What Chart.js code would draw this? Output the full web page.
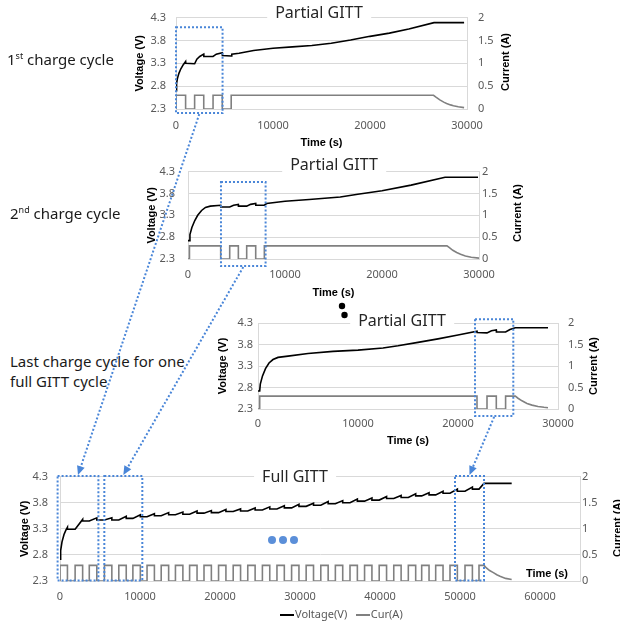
<!DOCTYPE html>
<html>
<head>
<meta charset="utf-8">
<title>GITT charge cycles</title>
<script src="https://cdn.jsdelivr.net/npm/chart.js@4.4.1/dist/chart.umd.min.js"></script>
<style>
  body { margin: 0; background: #fff; }
  #page { position: relative; width: 620px; height: 622px; overflow: hidden; font-family: 'Noto Sans', sans-serif; }
  canvas.chart { position: absolute; }
  #overlay { position: absolute; left: 0; top: 0; z-index: 5; pointer-events: none; }
  .side { position: absolute; font-size: 15px; color: #1a1a1a; white-space: nowrap; line-height: 1; transform: translateY(-50%); }
  .side sup { font-size: 9px; vertical-align: 6px; }
  .ctitle { position: absolute; font-size: 16px; color: #262626; background: #fff; padding: 0 8px; line-height: 1.2;
            white-space: nowrap; transform: translate(-50%, -50%); z-index: 3; }
  .rtitle { position: absolute; font: bold 11px 'Liberation Sans', Arial, sans-serif; color: #000; white-space: nowrap;
            transform: translate(-50%, -50%) rotate(-90deg); z-index: 3; }
  .intitle { position: absolute; font: bold 11px 'Liberation Sans', Arial, sans-serif; color: #000; white-space: nowrap;
             transform: translate(-50%, -50%); z-index: 3; }
  #legend { position: absolute; left: 280px; top: 606px; font-size: 11px; color: #595959; white-space: nowrap; line-height: 16px; }
  #legend .sw { display: inline-block; width: 14px; height: 2px; vertical-align: middle; margin-right: 1px; }
</style>
</head>
<body>
<div id="page">
  <canvas id="c1" class="chart"></canvas>
  <canvas id="c2" class="chart"></canvas>
  <canvas id="c3" class="chart"></canvas>
  <canvas id="c4" class="chart"></canvas>

  <div class="side" style="left:7px; top:59px;">1<sup>st</sup> charge cycle</div>
  <div class="side" style="left:10px; top:213px;">2<sup>nd</sup> charge cycle</div>
  <div class="side" style="left:10px; top:361px;">Last charge cycle for one</div>
  <div class="side" style="left:10px; top:381px;">full GITT cycle</div>

  <div class="ctitle" style="left:319px; top:13px;">Partial GITT</div>
  <div class="ctitle" style="left:334px; top:165px;">Partial GITT</div>
  <div class="ctitle" style="left:402px; top:321px;">Partial GITT</div>
  <div class="ctitle" style="left:295px; top:477px;">Full GITT</div>

  <div class="rtitle" style="left:505px; top:62px;">Current (A)</div>
  <div class="rtitle" style="left:517px; top:213px;">Current (A)</div>
  <div class="rtitle" style="left:593px; top:366px;">Current (A)</div>
  <div class="rtitle" style="left:617px; top:528px;">Current (A)</div>
  <div class="intitle" style="left:547px; top:573px;">Time (s)</div>

  <div id="legend"><span class="sw" style="background:#000"></span>Voltage(V)&nbsp;&nbsp;&nbsp;<span class="sw" style="background:#808080"></span>Cur(A)</div>

  <canvas id="overlay" width="620" height="622"></canvas>
</div>

<script>
// ---------- axis ticks ----------
const voltTicks = [2.3, 2.8, 3.3, 3.8, 4.3];
const curTicks = [0, 0.5, 1, 1.5, 2];
const timeTicks30 = [0, 10000, 20000, 30000];
const timeTicks60 = [0, 10000, 20000, 30000, 40000, 50000, 60000];

// ---------- 1st charge cycle: [time s, value] ----------
const c1Volt = [[0,2.70],[60,2.86],[150,2.97],[300,3.08],[500,3.18],[750,3.27],[990,3.34],[1000,3.30],[1920,3.29],
  [2150,3.39],[2450,3.45],[2860,3.50],[2870,3.45],[3820,3.45],[4150,3.50],[4770,3.53],[4780,3.47],[5690,3.46],
  [5750,3.50],[6500,3.52],[8000,3.58],[10000,3.63],[12000,3.66],[14000,3.69],[16000,3.74],[18000,3.81],
  [20000,3.89],[22000,3.96],[24000,4.05],[26600,4.19],[29700,4.19]];
const c1Cur = [[0,0],[0,0.3],[990,0.3],[990,0],[1920,0],[1920,0.3],[2860,0.3],[2860,0],[3820,0],[3820,0.3],
  [4770,0.3],[4770,0],[5690,0],[5690,0.3],[26550,0.3],[26800,0.26],[27200,0.2],[27600,0.15],[27900,0.12],
  [28300,0.09],[28600,0.07],[29100,0.05],[29700,0.03]];

// ---------- 2nd charge cycle ----------
const c2Volt = [[0,2.72],[150,2.72],[200,2.86],[400,3.02],[700,3.18],[1000,3.30],[1400,3.41],[1800,3.48],[2300,3.51],
  [3370,3.53],[3380,3.49],[4300,3.49],[4700,3.53],[5190,3.55],[5200,3.51],[6050,3.51],[6450,3.55],[6980,3.57],
  [6990,3.53],[7870,3.53],[8100,3.57],[10000,3.62],[12500,3.66],[15700,3.72],[17500,3.78],[20000,3.86],
  [23000,3.99],[26500,4.17],[29900,4.17]];
const c2Cur = [[0,0],[150,0],[150,0.3],[3370,0.3],[3370,0],[4300,0],[4300,0.3],[5190,0.3],[5190,0],[6050,0],
  [6050,0.3],[6980,0.3],[6980,0],[7870,0],[7870,0.3],[26700,0.3],[26950,0.26],[27300,0.2],[27700,0.15],
  [28100,0.11],[28600,0.07],[29200,0.04],[30000,0.02]];

// ---------- last charge cycle ----------
const c3Volt = [[0,2.72],[170,2.72],[230,2.88],[450,3.07],[750,3.24],[1100,3.37],[1500,3.45],[2000,3.50],[3000,3.53],
  [5000,3.59],[7500,3.64],[10000,3.67],[12500,3.72],[14000,3.77],[16000,3.85],[18000,3.93],[20000,4.02],
  [21900,4.11],[21910,4.08],[22900,4.07],[23350,4.12],[23830,4.14],[23840,4.09],[24760,4.09],[25200,4.15],
  [25730,4.19],[29000,4.19]];
const c3Cur = [[0,0],[170,0],[170,0.3],[21900,0.3],[21900,0],[22900,0],[22900,0.3],[23830,0.3],[23830,0],
  [24760,0],[24760,0.3],[25730,0.3],[26000,0.25],[26400,0.19],[26900,0.13],[27400,0.09],[28000,0.06],
  [28600,0.04],[29000,0.03]];

// ---------- full GITT: pulse edges and voltage levels ----------
const pulseAmp4 = 0.3;
const pulseOn4 = [0, 1890, 3660, 5550, 7350, 9110, 10880, 12650, 14430, 16200, 18000, 19820, 21650, 23470, 25300,
  27120, 28950, 30770, 32600, 34420, 36250, 38070, 39900, 41720, 43540, 45210, 46960, 48750, 50625, 52375];
const pulseOff4 = [930, 2830, 4600, 6480, 8280, 10040, 11800, 13580, 15360, 17130, 18920, 20740, 22570, 24390, 26220,
  28040, 29870, 31690, 33520, 35340, 37170, 38990, 40820, 42640, 44460, 46130, 47880, 49670, 51550, 53000];
const peak4 = [3.33, 3.48, 3.51, 3.51, 3.54, 3.57, 3.59, 3.61, 3.62, 3.64, 3.65, 3.67, 3.68, 3.70, 3.72,
  3.74, 3.77, 3.79, 3.82, 3.84, 3.87, 3.89, 3.92, 3.94, 3.97, 3.99, 4.02, 4.06, 4.10, 4.17];
const rest4 = [3.29, 3.45, 3.47, 3.47, 3.50, 3.53, 3.55, 3.57, 3.58, 3.60, 3.61, 3.63, 3.64, 3.66, 3.68,
  3.70, 3.73, 3.75, 3.78, 3.80, 3.83, 3.85, 3.88, 3.90, 3.93, 3.95, 3.98, 4.02, 4.06, 4.17];
const v4Head = [[0,2.72],[80,2.88],[250,3.05],[500,3.19],[750,3.28]];
const v4End = 56460;
const cur4Tail = [[53300,0.25],[53700,0.2],[54170,0.16],[54600,0.12],[55000,0.09],[55700,0.05],[56460,0.03]];

// zoom boxes: [t start, t end, V low, V high]
const zoomBox1 = [0, 4800, 2.21, 4.09];
const zoomBox2 = [3400, 8000, 2.14, 4.06];
const zoomBox3 = [21700, 25530, 2.14, 4.39];
const fullBoxes = [[-300, 4800, 2.31, 4.31], [5540, 10290, 2.31, 4.31], [49375, 53000, 2.31, 4.31]];

// build step shapes of the full GITT from the pulse edges
function fullVolt() {
  const pts = v4Head.slice();
  for (let k = 0; k < pulseOn4.length; k++) {
    if (k > 0) pts.push([pulseOn4[k], rest4[k - 1]]);
    pts.push([pulseOff4[k], peak4[k]], [pulseOff4[k], rest4[k]]);
  }
  pts.push([v4End, rest4[rest4.length - 1]]);
  return pts;
}
function fullCur() {
  const pts = [];
  const last = pulseOn4.length - 1;
  pulseOn4.forEach((t, k) => {
    pts.push([t, 0], [t, pulseAmp4]);
    pts.push([pulseOff4[k], pulseAmp4]);
    if (k < last) pts.push([pulseOff4[k], 0]);
  });
  return pts.concat(cur4Tail);
}

const tickFont = { family: "'Noto Sans', sans-serif", size: 11 };
const titleFont = { family: "'Liberation Sans', Arial, sans-serif", size: 11, weight: 'bold' };
const asText = v => String(v);

// g: canvas box (x,y,w,h), plot box (pl,pt,pr,pb), label gaps and title positions
function makeChart(id, g, volt, cur) {
  const cv = document.getElementById(id);
  cv.width = g.w; cv.height = g.h;
  cv.style.left = g.x + 'px'; cv.style.top = g.y + 'px';
  const toXY = arr => arr.map(p => ({ x: p[0], y: p[1] }));
  return new Chart(cv, {
    type: 'line',
    data: {
      datasets: [
        { label: 'Voltage(V)', data: toXY(volt), yAxisID: 'y', borderColor: '#000', borderWidth: 1.6, pointRadius: 0 },
        { label: 'Cur(A)', data: toXY(cur), yAxisID: 'y1', borderColor: '#808080', borderWidth: 1.6, pointRadius: 0 }
      ]
    },
    options: {
      responsive: false,
      animation: false,
      events: [],
      layout: { padding: { top: g.pt - g.y, left: 0, right: 0, bottom: 0 } },
      plugins: { legend: { display: false }, tooltip: { enabled: false } },
      scales: {
        x: {
          type: 'linear', min: 0, max: g.tMax,
          afterBuildTicks: s => { s.ticks = g.tTicks.map(v => ({ value: v })); },
          afterFit: s => { s.height = g.y + g.h - g.pb; },
          grid: { display: false, drawTicks: false },
          border: { display: false },
          ticks: { font: tickFont, color: '#595959', padding: g.xPad, maxRotation: 0, autoSkip: false, callback: asText },
          title: g.xTitleY ? { display: true, text: 'Time (s)', font: titleFont, color: '#000',
                               padding: { top: 0, bottom: g.y + g.h - g.xTitleY - 6.6 } } : { display: false }
        },
        y: {
          position: 'left', min: 2.3, max: 4.3,
          afterBuildTicks: s => { s.ticks = voltTicks.map(v => ({ value: v })); },
          afterFit: s => { s.width = g.pl - g.x; },
          grid: { color: '#d9d9d9', drawTicks: false },
          border: { color: '#d9d9d9' },
          ticks: { font: tickFont, color: '#595959', padding: g.yPad, callback: asText },
          title: { display: true, text: 'Voltage (V)', font: titleFont, color: '#000',
                   padding: { top: g.yTitleX - g.x - 6.6, bottom: 0 } }
        },
        y1: {
          position: 'right', min: 0, max: 2,
          afterBuildTicks: s => { s.ticks = curTicks.map(v => ({ value: v })); },
          afterFit: s => { s.width = g.x + g.w - g.pr; },
          grid: { display: false, drawTicks: false },
          border: { color: '#d9d9d9' },
          ticks: { font: tickFont, color: '#595959', padding: g.rPad, callback: asText }
        }
      }
    }
  });
}

const g1 = { x: 100, y: 0, w: 407, h: 155, pl: 176, pt: 15, pr: 467, pb: 109, yPad: 10, rPad: 11, xPad: 10.4,
             yTitleX: 140, xTitleY: 143, tMax: 30000, tTicks: timeTicks30 };
const g2 = { x: 110, y: 152, w: 409, h: 150, pl: 188, pt: 167, pr: 479, pb: 259, yPad: 13, rPad: 3, xPad: 9.4,
             yTitleX: 152, xTitleY: 293, tMax: 30000, tTicks: timeTicks30 };
const g3 = { x: 200, y: 305, w: 390, h: 145, pl: 258, pt: 323, pr: 558, pb: 409, yPad: 5, rPad: 10, xPad: 8.4,
             yTitleX: 223, xTitleY: 441, tMax: 30000, tTicks: timeTicks30 };
const g4 = { x: 0, y: 458, w: 620, h: 164, pl: 60, pt: 476, pr: 580, pb: 581, yPad: 12, rPad: 2, xPad: 9.1,
             yTitleX: 25, xTitleY: null, tMax: 65000, tTicks: timeTicks60 };

const ch1 = makeChart('c1', g1, c1Volt, c1Cur);
const ch2 = makeChart('c2', g2, c2Volt, c2Cur);
const ch3 = makeChart('c3', g3, c3Volt, c3Cur);
const ch4 = makeChart('c4', g4, fullVolt(), fullCur());

// ---------- annotations: dotted boxes, connectors, dots ----------
const ov = document.getElementById('overlay');
const ctx = ov.getContext('2d');
const blue = '#4a86d8';

function boxPx(ch, g, b) {
  return {
    x0: g.x + ch.scales.x.getPixelForValue(b[0]),
    x1: g.x + ch.scales.x.getPixelForValue(b[1]),
    yb: g.y + ch.scales.y.getPixelForValue(b[2]),
    yt: g.y + ch.scales.y.getPixelForValue(b[3])
  };
}
function drawBox(r) {
  ctx.save();
  ctx.strokeStyle = blue; ctx.lineWidth = 2; ctx.setLineDash([2, 2]);
  ctx.strokeRect(r.x0, r.yt, r.x1 - r.x0, r.yb - r.yt);
  ctx.restore();
}
function connect(from, to) {
  const x0 = (from.x0 + from.x1) / 2, y0 = from.yb + 1;
  const x1 = (to.x0 + to.x1) / 2, y1 = to.yt - 1;
  const a = Math.atan2(y1 - y0, x1 - x0);
  const L = 9, W = 4;
  ctx.save();
  ctx.strokeStyle = blue; ctx.fillStyle = blue; ctx.lineWidth = 2; ctx.setLineDash([2, 2]);
  ctx.beginPath(); ctx.moveTo(x0, y0);
  ctx.lineTo(x1 - (L - 2) * Math.cos(a), y1 - (L - 2) * Math.sin(a)); ctx.stroke();
  ctx.setLineDash([]);
  ctx.beginPath();
  ctx.moveTo(x1, y1);
  ctx.lineTo(x1 - L * Math.cos(a) + W * Math.sin(a), y1 - L * Math.sin(a) - W * Math.cos(a));
  ctx.lineTo(x1 - L * Math.cos(a) - W * Math.sin(a), y1 - L * Math.sin(a) + W * Math.cos(a));
  ctx.closePath(); ctx.fill();
  ctx.restore();
}
function dot(x, y, r, color) {
  ctx.beginPath(); ctx.arc(x, y, r, 0, Math.PI * 2); ctx.fillStyle = color; ctx.fill();
}

const b1 = boxPx(ch1, g1, zoomBox1);
const b2 = boxPx(ch2, g2, zoomBox2);
const b3 = boxPx(ch3, g3, zoomBox3);
const fb = fullBoxes.map(b => boxPx(ch4, g4, b));
[b1, b2, b3].concat(fb).forEach(drawBox);
connect(b1, fb[0]);
connect(b2, fb[1]);
connect(b3, fb[2]);

// vertical ellipsis between the partial cycles, and "..." inside the full GITT
dot(342, 306, 3.2, '#000');
dot(344.5, 315, 3.2, '#000');
dot(272, 540, 4, '#5b8fd9');
dot(283, 540, 4, '#5b8fd9');
dot(294, 540, 4, '#5b8fd9');
</script>
</body>
</html>
